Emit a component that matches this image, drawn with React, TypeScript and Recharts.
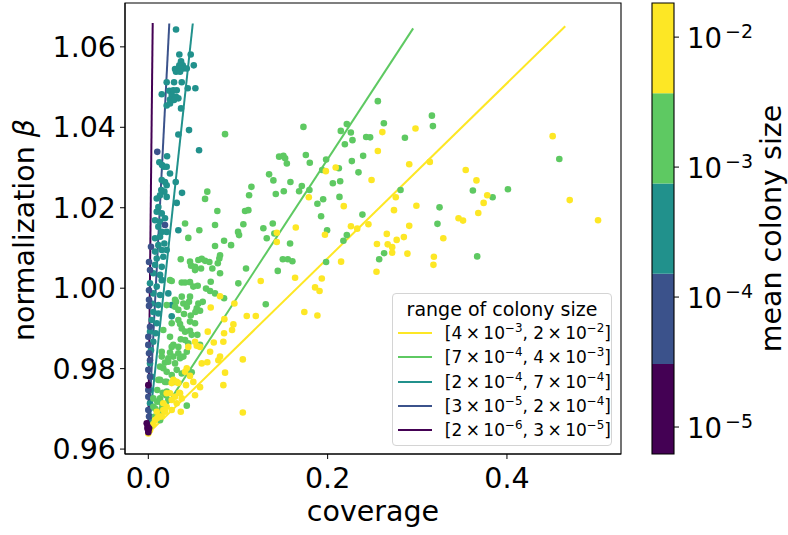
import {
  ScatterChart,
  Scatter,
  XAxis,
  YAxis,
  ReferenceLine,
  ReferenceArea,
} from "recharts";

const FONT = "DejaVu Sans, Verdana, sans-serif";

// viridis bins, largest colony size first
const groupColors = ["#fde725", "#5ec962", "#21918c", "#3b528b", "#440154"];
// [mantissa, exponent] low / high of each bin
const groupRanges = [
  [[4, -3], [2, -2]],
  [[7, -4], [4, -3]],
  [[2, -4], [7, -4]],
  [[3, -5], [2, -4]],
  [[2, -6], [3, -5]],
];

// coverage, normalization beta
const yellowPts = [
  [0.451, 1.0378], [0.47, 1.0219], [0.5016, 1.0169], [0.298, 1.0397], [0.261, 1.0388], [0.256, 1.0341],
  [0.291, 1.0308], [0.314, 1.0314], [0.249, 1.0269], [0.198, 1.0291], [0.209, 1.03], [0.179, 1.0226],
  [0.218, 1.0204], [0.276, 1.0226], [0.274, 1.0194], [0.299, 1.0205], [0.354, 1.0294], [0.366, 1.0268],
  [0.378, 1.0231], [0.374, 1.0212], [0.368, 1.0187], [0.346, 1.0174], [0.351, 1.0168], [0.329, 1.0124],
  [0.197, 1.0133], [0.226, 1.0154], [0.233, 1.0148], [0.2455, 1.0159], [0.291, 1.0155], [0.266, 1.0135],
  [0.285, 1.0127], [0.277, 1.012], [0.255, 1.011], [0.267, 1.0109], [0.272, 1.0102], [0.272, 1.0088],
  [0.289, 1.0086], [0.3185, 1.0078], [0.318, 1.0058], [0.2545, 1.0041], [0.215, 1.0066], [0.1935, 1.0024],
  [0.186, 1.0002], [0.191, 0.9993], [0.174, 0.9941], [0.1886, 0.9932], [0.1645, 1.0151], [0.1433, 1.0138],
  [0.1433, 1.0115], [0.1254, 1.0018], [0.1637, 1.0026], [0.08, 0.998], [0.0696, 0.9952], [0.096, 0.9962],
  [0.1098, 0.9931], [0.1199, 0.9931], [0.0848, 0.9923], [0.0949, 0.991], [0.0934, 0.9896], [0.0845, 0.9888],
  [0.073, 0.9865], [0.0837, 0.9867], [0.0663, 0.9892], [0.054, 0.9857], [0.0689, 0.9842], [0.0658, 0.9816],
  [0.08, 0.983], [0.0781, 0.9821], [0.0446, 0.9854], [0.1054, 0.9823], [0.0856, 0.979], [0.0837, 0.9759],
  [0.0429, 0.9801], [0.0465, 0.9782], [0.0279, 0.9772], [0.0317, 0.9767], [0.0421, 0.9759], [0.0502, 0.9767],
  [0.0577, 0.9754], [0.0521, 0.9734], [0.0242, 0.9739], [0.0346, 0.974], [0.0373, 0.9726], [0.0261, 0.9722],
  [0.0317, 0.9714], [0.0167, 0.9697], [0.0205, 0.9705], [0.015, 0.9681], [0.0261, 0.9697], [0.0362, 0.9693],
  [0.01, 0.9677], [0.0056, 0.9662], [0.1054, 0.9691], [0.0521, 0.9867], [0.0577, 0.9854], [0.041, 0.9792],
  [0.0261, 0.9764], [0.0335, 0.9764], [0.0205, 0.9739], [0.0298, 0.973], [0.0354, 0.9739], [0.0167, 0.9714],
  [0.0094, 0.9693], [0.0186, 0.9693], [0.0075, 0.9672], [0.0131, 0.9681], [0.0019, 0.9647], [0.0, 0.9639],
  [0.0596, 0.9813],
];

const greenPts = [
  [0.173, 1.0401], [0.256, 1.0465], [0.3163, 1.0429], [0.3174, 1.0403], [0.2214, 1.0408], [0.2147, 1.0391],
  [0.2259, 1.0387], [0.2627, 1.041], [0.2277, 1.0368], [0.2192, 1.0358], [0.243, 1.0376], [0.2474, 1.0375],
  [0.2862, 1.0374], [0.1757, 1.0331], [0.1801, 1.0312], [0.1983, 1.032], [0.227, 1.0316], [0.2396, 1.0329],
  [0.2125, 1.0298], [0.1939, 1.0294], [0.2344, 1.0288], [0.214, 1.0266], [0.2058, 1.0261], [0.1712, 1.0254],
  [0.1797, 1.0244], [0.2813, 1.0244], [0.2132, 1.0227], [0.195, 1.0221], [0.1886, 1.021], [0.1927, 1.0179],
  [0.2388, 1.0183], [0.1994, 1.0144], [0.2214, 1.0132], [0.2176, 1.0118], [0.1983, 1.0065], [0.263, 1.0087],
  [0.2575, 1.0072], [0.3248, 1.0201], [0.3225, 1.016], [0.362, 1.0243], [0.384, 1.0226], [0.4011, 1.0246],
  [0.3668, 1.0079], [0.4584, 1.0321], [0.0856, 1.0383], [0.1459, 1.0327], [0.1507, 1.0329], [0.1526, 1.0323],
  [0.1545, 1.031], [0.1347, 1.0283], [0.1395, 1.0268], [0.1585, 1.0264], [0.1682, 1.0241], [0.115, 1.0252],
  [0.0658, 1.024], [0.1124, 1.0231], [0.1422, 1.0234], [0.1511, 1.0241], [0.0633, 1.0222], [0.077, 1.0192],
  [0.1079, 1.0192], [0.1116, 1.0194], [0.041, 1.0161], [0.0744, 1.0157], [0.0569, 1.0144], [0.106, 1.0159],
  [0.1283, 1.0149], [0.1388, 1.0161], [0.1001, 1.014], [0.1012, 1.0132], [0.1406, 1.0136], [0.0446, 1.0125],
  [0.0845, 1.0118], [0.0923, 1.0107], [0.1321, 1.0124], [0.1581, 1.0111], [0.0744, 1.0105], [0.08, 1.0082],
  [0.0792, 1.0074], [0.0362, 1.0072], [0.0596, 1.0073], [0.0633, 1.0068], [0.0681, 1.0065], [0.0775, 1.0062],
  [0.0477, 1.0056], [0.0521, 1.0053], [0.0588, 1.0049], [0.0714, 1.0049], [0.109, 1.0049], [0.08, 1.0037],
  [0.15, 1.0072], [0.1556, 1.0072], [0.1607, 1.0067], [0.1444, 1.0043], [0.0261, 1.0018], [0.0373, 1.0014],
  [0.041, 1.0014], [0.0465, 1.0015], [0.0696, 1.0016], [0.0502, 1.0004], [0.0551, 1.0006], [0.0644, 0.9999],
  [0.0689, 0.9993], [0.0744, 0.9987], [0.0845, 0.9975], [0.1004, 1.0012], [0.0309, 0.9966], [0.0391, 0.9962],
  [0.0454, 0.9966], [0.0558, 0.9962], [0.0607, 0.9966], [0.0298, 0.9954], [0.054, 0.995], [0.0577, 0.9944],
  [0.0525, 0.9941], [0.0429, 0.9954], [0.131, 0.996], [0.0398, 0.9936], [0.0473, 0.9932], [0.0335, 0.9921],
  [0.0354, 0.9911], [0.0465, 0.9917], [0.0521, 0.9913], [0.0373, 0.99], [0.041, 0.9892], [0.0465, 0.9894],
  [0.0484, 0.9884], [0.0547, 0.9884], [0.0362, 0.9873], [0.041, 0.9871], [0.0577, 0.9859], [0.0279, 0.9859],
  [0.0335, 0.9854], [0.0429, 0.9842], [0.015, 0.9842], [0.0242, 0.984], [0.0279, 0.983], [0.0186, 0.9815],
  [0.0223, 0.9817], [0.0354, 0.9826], [0.0131, 0.9805], [0.0167, 0.9801], [0.0205, 0.9792], [0.0317, 0.9797],
  [0.0373, 0.9788], [0.0484, 0.9791], [0.0131, 0.9772], [0.0205, 0.9767], [0.01, 0.9747], [0.0161, 0.974],
  [0.0198, 0.9734], [0.0056, 0.9726], [0.01, 0.9718], [0.015, 0.9714], [0.0075, 0.9701], [0.0123, 0.9693],
  [0.0429, 0.9708], [0.0465, 1.0066], [0.0558, 1.007], [0.0521, 1.0045], [0.0242, 1.002], [0.0205, 0.9958],
  [0.0298, 0.9971], [0.0373, 0.9979], [0.0465, 0.9979], [0.0335, 0.9946], [0.0261, 0.9913], [0.0167, 0.9896],
  [0.0242, 0.9879], [0.0261, 0.9854], [0.0446, 0.9863], [0.015, 0.983], [0.0223, 0.9826], [0.0335, 0.9838],
  [0.0298, 0.9813], [0.0391, 0.983], [0.0261, 0.9784], [0.0112, 0.9772], [0.0186, 0.9767], [0.0298, 0.9767],
  [0.0205, 0.9743], [0.0131, 0.9726], [0.0223, 0.9722], [0.0056, 0.9705], [0.015, 0.9701], [0.0075, 0.9681],
  [0.0131, 0.9672],
];

const tealPts = [
  [0.0309, 1.0643], [0.0346, 1.0581], [0.0473, 1.0581], [0.0365, 1.0564], [0.0384, 1.0554], [0.0346, 1.0554],
  [0.0298, 1.0545], [0.0335, 1.0546], [0.0391, 1.0546], [0.0429, 1.0546], [0.0507, 1.0554], [0.0309, 1.0538],
  [0.0354, 1.0538], [0.0205, 1.0512], [0.0287, 1.0512], [0.0373, 1.0512], [0.044, 1.0497], [0.0525, 1.0497],
  [0.0234, 1.0491], [0.0279, 1.0492], [0.0317, 1.0492], [0.015, 1.0482], [0.0261, 1.048], [0.0309, 1.0476],
  [0.0242, 1.0469], [0.0287, 1.0468], [0.0335, 1.0472], [0.0205, 1.0454], [0.0242, 1.0459], [0.0365, 1.0447],
  [0.0454, 1.0393], [0.0335, 1.0382], [0.0566, 1.0343], [0.0209, 1.0328], [0.0123, 1.0313], [0.0153, 1.0306],
  [0.0175, 1.0302], [0.0205, 1.0302], [0.0242, 1.0285], [0.015, 1.0269], [0.0186, 1.0264], [0.0306, 1.0264],
  [0.0205, 1.0256], [0.0145, 1.0244], [0.0376, 1.0237], [0.0094, 1.0223], [0.0205, 1.0227], [0.0179, 1.024],
  [0.0131, 1.0231], [0.0317, 1.0212], [0.0112, 1.0202], [0.0094, 1.019], [0.015, 1.0186], [0.0075, 1.0169],
  [0.0131, 1.0165], [0.0186, 1.0174], [0.0335, 1.0144], [0.0112, 1.0153], [0.015, 1.014], [0.0205, 1.014],
  [0.0075, 1.0124], [0.0131, 1.0128], [0.0112, 1.0107], [0.0179, 1.0111], [0.0075, 1.0091], [0.015, 1.0095],
  [0.0205, 1.0095], [0.0094, 1.0074], [0.0167, 1.0078], [0.0075, 1.0058], [0.015, 1.0053], [0.0056, 1.0037],
  [0.0131, 1.0033], [0.015, 1.002], [0.0019, 1.0012], [0.0094, 1.0004], [0.0056, 0.9987], [0.0131, 0.9983],
  [0.0038, 0.9962], [0.0112, 0.9958], [0.0223, 0.9987], [0.0261, 0.9958], [0.0056, 0.9941], [0.0112, 0.9937],
  [0.0038, 0.9921], [0.0094, 0.9913], [0.0019, 0.9892], [0.0083, 0.9888], [0.0056, 0.9867], [0.003, 0.9846],
  [0.0019, 0.9813], [0.0038, 0.978], [0.0019, 0.9747], [0.0019, 0.9714], [0.0019, 0.9681], [0.0041, 0.9667],
  [0.0261, 0.993],
];

const bluePts = [
  [0.01, 1.0339], [0.0186, 1.0157], [0.003, 1.0103], [0.0008, 0.9995], [0.0008, 0.9956], [0.0019, 0.9904],
  [0.0, 0.9879], [0.0, 0.9859], [0.0008, 0.9838], [0.0019, 0.9821], [0.0, 0.9797], [0.0019, 0.978],
  [0.0, 0.9747], [0.0, 0.973], [0.0, 0.9697], [0.0008, 0.9681], [0.0008, 0.9971], [0.0019, 1.0045],
  [0.0008, 1.0065],
];

const purplePts = [
  [0.0, 0.9647], [-0.0007, 0.9656], [-0.0018, 0.9664], [0.0, 0.9642], [0.0, 0.9759], [-0.0009, 0.9651],
  [0.0008, 0.9652],
];

// linear fits: start and end point for each bin (same order as groupColors)
const fitLines = [
  [[0, 0.9639], [0.465, 1.0651]],
  [[0, 0.9639], [0.2954, 1.0646]],
  [[0, 0.9639], [0.0496, 1.0658]],
  [[0, 0.9639], [0.0234, 1.0658]],
  [[0, 0.9639], [0.0049, 1.0659]],
];

const xTicks = [0, 0.2, 0.4];
const yTicks = [0.96, 0.98, 1.0, 1.02, 1.04, 1.06];
const xDomain = [-0.026, 0.5272];
const yDomain = [0.95878, 1.0709];

// colorbar: bin edges (log spaced) and ticks
const cbarEdges = [6.2e-6, 3.05e-5, 1.51e-4, 7.46e-4, 3.7e-3, 1.83e-2];
const cbarTicks = [1e-5, 1e-4, 1e-3, 1e-2];

const toObj = (pts: number[][]) => pts.map(([x, y]) => ({ x, y }));

const dot = (color: string) => (props: any) =>
  props.cx == null ? <g /> : <circle cx={props.cx} cy={props.cy} r={3.3} fill={color} />;

const PowTick = (props: any) => {
  const { x, y, payload } = props;
  const e = Math.round(Math.log10(payload.value));
  return (
    <text x={x} y={y} dy={11.2} fontSize={27.5} fontFamily={FONT} fill="#000" textAnchor="start">
      10
      <tspan dx={3} dy={-10.6} fontSize={19}>
        {`\u2212${-e}`}
      </tspan>
    </text>
  );
};

const Pow = ({ m, e }: { m: number; e: number }) => (
  <>
    {m}
    {"\u2009\u00d7\u200910"}
    <span style={{ fontSize: "0.7em", verticalAlign: "0.55em", lineHeight: 0 }}>{`\u2212${-e}`}</span>
  </>
);

const LegendBox = () => (
  <div
    style={{
      position: "absolute",
      left: 392,
      top: 293,
      width: 218,
      border: "1px solid #d4d4d4",
      borderRadius: 4,
      background: "rgba(255,255,255,0.8)",
      padding: "3px 0",
      fontFamily: FONT,
      color: "#000",
    }}
  >
    <div style={{ textAlign: "center", fontSize: 19, lineHeight: "24px", height: 24 }}>
      range of colony size
    </div>
    {groupRanges.map((r, i) => (
      <div key={i} style={{ display: "flex", alignItems: "center", height: 24.3, fontSize: 17 }}>
        <div style={{ marginLeft: 5, width: 34, height: 2, background: groupColors[i] }} />
        <div style={{ marginLeft: 13, whiteSpace: "nowrap", lineHeight: "24px" }}>
          [<Pow m={r[0][0]} e={r[0][1]} />, <Pow m={r[1][0]} e={r[1][1]} />]
        </div>
      </div>
    ))}
  </div>
);

const tickStyle = { fontSize: 28.5, fill: "#000", fontFamily: FONT };

export default function App() {
  const series = [
    { pts: tealPts, c: groupColors[2] },
    { pts: bluePts, c: groupColors[3] },
    { pts: greenPts, c: groupColors[1] },
    { pts: yellowPts, c: groupColors[0] },
    { pts: purplePts, c: groupColors[4] },
  ];
  return (
    <div style={{ position: "absolute", left: 0, top: 0, width: 788, height: 535, background: "#fff" }}>
      <div style={{ position: "absolute", left: 0, top: 0 }}>
        <ScatterChart width={640} height={535} margin={{ top: 3, right: 19, bottom: 0, left: 0 }}>
          <XAxis
            type="number"
            dataKey="x"
            domain={xDomain}
            allowDataOverflow
            ticks={xTicks}
            tickFormatter={(v: number) => v.toFixed(1)}
            height={81}
            tick={tickStyle}
            tickSize={5}
            tickMargin={9}
            stroke="#000"
            label={{
              content: () => (
                <text x={373} y={521} textAnchor="middle" fontSize={28.5} fontFamily={FONT} fill="#000">
                  coverage
                </text>
              ),
            }}
          />
          <YAxis
            type="number"
            dataKey="y"
            domain={yDomain}
            allowDataOverflow
            ticks={yTicks}
            tickFormatter={(v: number) => v.toFixed(2)}
            width={125}
            tick={tickStyle}
            tickSize={5}
            tickMargin={4}
            stroke="#000"
            label={{
              content: () => (
                <text
                  x={34}
                  y={230}
                  transform="rotate(-90, 34, 230)"
                  textAnchor="middle"
                  fontSize={28.5}
                  fontFamily={FONT}
                  fill="#000"
                >
                  normalization <tspan fontStyle="italic">β</tspan>
                </text>
              ),
            }}
          />
          {series.map((s, i) => (
            <Scatter key={i} data={toObj(s.pts)} fill={s.c} shape={dot(s.c)} isAnimationActive={false} />
          ))}
          {fitLines.map((l, i) => (
            <ReferenceLine
              key={"f" + i}
              segment={[
                { x: l[0][0], y: l[0][1] },
                { x: l[1][0], y: l[1][1] },
              ]}
              stroke={groupColors[i]}
              strokeWidth={2}
            />
          ))}
          <ReferenceArea
            x1={xDomain[0]}
            x2={xDomain[1]}
            y1={yDomain[0]}
            y2={yDomain[1]}
            fill="none"
            fillOpacity={0}
            stroke="#000"
            strokeWidth={1.1}
          />
        </ScatterChart>
      </div>
      <div style={{ position: "absolute", left: 640, top: 0 }}>
        <ScatterChart width={148} height={535} margin={{ top: 3, right: 0, bottom: 81, left: 12 }}>
          <XAxis type="number" dataKey="x" domain={[0, 1]} hide />
          <YAxis
            type="number"
            dataKey="y"
            orientation="right"
            scale="log"
            domain={[cbarEdges[0], cbarEdges[cbarEdges.length - 1]]}
            allowDataOverflow
            ticks={cbarTicks}
            width={114}
            tickSize={5}
            tickMargin={8}
            tick={<PowTick />}
            stroke="#000"
            axisLine={false}
            label={{
              content: () => (
                <text
                  x={141}
                  y={228.5}
                  transform="rotate(-90, 141, 228.5)"
                  textAnchor="middle"
                  fontSize={28.5}
                  fontFamily={FONT}
                  fill="#000"
                >
                  mean colony size
                </text>
              ),
            }}
          />
          <Scatter data={[{ x: 0.5, y: 1e-3 }]} shape={() => <g />} isAnimationActive={false} />
          {groupColors
            .slice()
            .reverse()
            .map((c, i) => (
              <ReferenceArea
                key={i}
                x1={0}
                x2={1}
                y1={cbarEdges[i]}
                y2={cbarEdges[i + 1]}
                fill={c}
                fillOpacity={1}
                stroke="none"
              />
            ))}
          <ReferenceArea
            x1={0}
            x2={1}
            y1={cbarEdges[0]}
            y2={cbarEdges[cbarEdges.length - 1]}
            fill="none"
            fillOpacity={0}
            stroke="#000"
            strokeWidth={1.1}
          />
        </ScatterChart>
      </div>
      <LegendBox />
    </div>
  );
}
